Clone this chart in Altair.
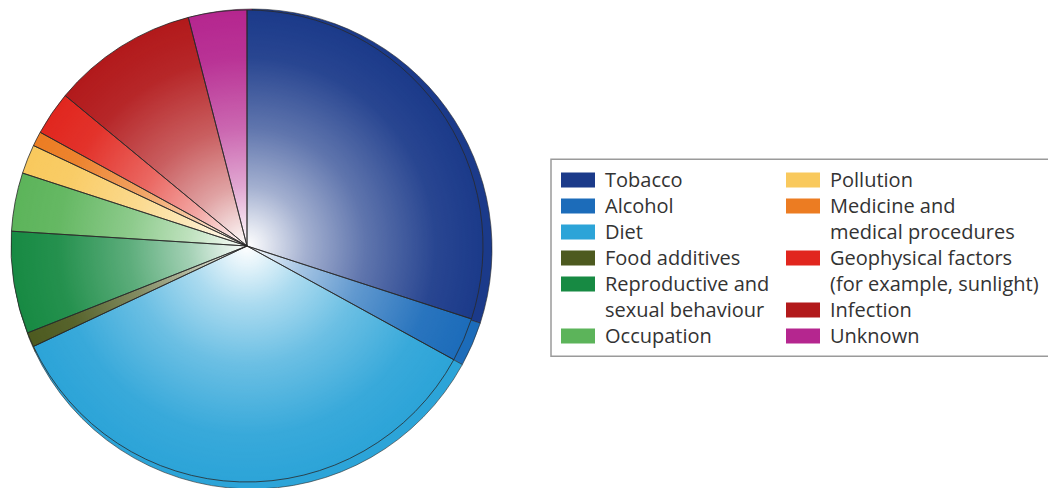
import math
import altair as alt
import pandas as pd

# ---- data ----
causes = ["Tobacco", "Alcohol", "Diet", "Food additives",
          "Reproductive and sexual behaviour", "Occupation", "Pollution",
          "Medicine and medical procedures", "Geophysical factors",
          "Infection", "Unknown"]
shares = [30, 3, 35, 1, 7, 4, 2, 1, 3, 10, 4]
colors = ["#1b3a8a", "#1c6cba", "#2ca4d8", "#4d5a1f", "#178a43", "#5cb45a",
          "#f9c95d", "#ec7c22", "#e1261e", "#b2191b", "#b5268f"]

# legend text: list of lines per entry, and column of each entry
legend_lines = [["Tobacco"], ["Alcohol"], ["Diet"], ["Food additives"],
                ["Reproductive and", "sexual behaviour"], ["Occupation"],
                ["Pollution"], ["Medicine and", "medical procedures"],
                ["Geophysical factors", "(for example, sunlight)"],
                ["Infection"], ["Unknown"]]
legend_cols = [0, 0, 0, 0, 0, 0, 1, 1, 1, 1, 1]

pie_df = pd.DataFrame({"cause": causes, "share": shares,
                       "idx": list(range(len(causes)))})

# legend rows built from the lists
sw_rows, tx_rows = [], []
line_counter = {0: 0, 1: 0}
for cause, lines, col in zip(causes, legend_lines, legend_cols):
    sw_rows.append({"cause": cause, "col": col, "line": line_counter[col]})
    for ln in lines:
        tx_rows.append({"text": ln, "col": col, "line": line_counter[col]})
        line_counter[col] += 1
sw_df = pd.DataFrame(sw_rows)
tx_df = pd.DataFrame(tx_rows)
n_lines = max(line_counter.values())

color_scale = alt.Scale(domain=causes, range=colors)
theta = alt.Theta("share:Q", stack=True)
order = alt.Order("idx:Q")

CX, CY, R = 247, 246, 236

back = alt.Chart(pie_df).mark_arc(radius=R + 4, stroke="#2a2a2a", strokeWidth=0.6).encode(
    theta=theta, order=order,
    color=alt.Color("cause:N", scale=color_scale, legend=None),
    x=alt.value(CX + 5), y=alt.value(CY + 3),
)
front = alt.Chart(pie_df).mark_arc(radius=R, strokeWidth=0).encode(
    theta=theta, order=order,
    color=alt.Color("cause:N", scale=color_scale, legend=None),
    x=alt.value(CX), y=alt.value(CY),
)
glow = alt.Chart(pd.DataFrame({"v": [1]})).mark_arc(
    radius=R, theta=0, theta2=2 * math.pi, strokeWidth=0,
    fill={"gradient": "radial", "x1": 0.5, "y1": 0.5, "r1": 0,
          "x2": 0.5, "y2": 0.5, "r2": 0.5,
          "stops": [{"offset": 0.0, "color": "rgba(255,255,255,1)"},
                    {"offset": 0.08, "color": "rgba(255,255,255,0.88)"},
                    {"offset": 0.25, "color": "rgba(255,255,255,0.6)"},
                    {"offset": 0.5, "color": "rgba(255,255,255,0.3)"},
                    {"offset": 0.8, "color": "rgba(255,255,255,0.06)"},
                    {"offset": 1.0, "color": "rgba(255,255,255,0)"}]},
).encode(x=alt.value(CX), y=alt.value(CY))
edges = alt.Chart(pie_df).mark_arc(radius=R, fillOpacity=0, stroke="#2a2a2a",
                                   strokeWidth=0.8).encode(
    theta=theta, order=order,
    x=alt.value(CX), y=alt.value(CY),
)

xs = alt.Scale(domain=[0, 1], range=[578, 803])
ys = alt.Scale(domain=[0, n_lines - 1], range=[180, 336])

frame = alt.Chart(pd.DataFrame({"v": [1]})).mark_rect(
    fill="white", stroke="#9a9a9a", strokeWidth=1.5).encode(
    x=alt.X("a:Q", scale=xs, axis=None), x2="b:Q",
    y=alt.Y("c:Q", scale=ys, axis=None), y2="d:Q",
).transform_calculate(a="-0.12", b="2.1", c="-0.8", d=str(n_lines - 1 + 0.78))

swatch = alt.Chart(sw_df).mark_rect(width=34, height=15).encode(
    x=alt.X("col:Q", scale=xs, axis=None),
    y=alt.Y("line:Q", scale=ys, axis=None),
    color=alt.Color("cause:N", scale=color_scale, legend=None),
)
label = alt.Chart(tx_df).mark_text(
    align="left", baseline="middle", dx=27, dy=1, font="Open Sans",
    fontSize=20, color="#333333").encode(
    x=alt.X("col:Q", scale=xs, axis=None),
    y=alt.Y("line:Q", scale=ys, axis=None),
    text="text:N",
)

chart = alt.layer(back, front, glow, edges, frame, swatch, label).properties(
    width=1048, height=488, padding=0,
    autosize=alt.AutoSizeParams(type="none"),
).configure_view(stroke=None)

chart.save("out.html", embed_options={"renderer": "svg", "actions": False})
